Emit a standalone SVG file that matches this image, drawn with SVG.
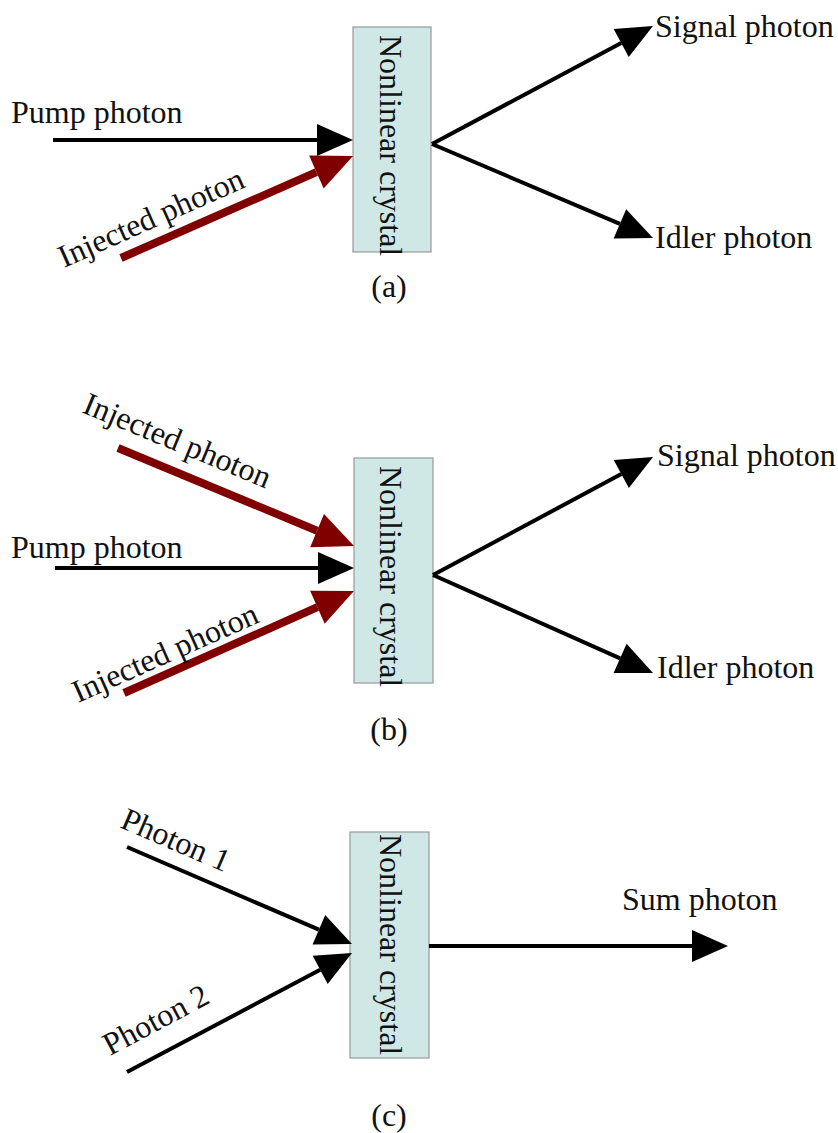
<svg xmlns="http://www.w3.org/2000/svg" width="838" height="1133" viewBox="0 0 838 1133">
<style>
text{font-family:"Liberation Serif","Times New Roman",serif;font-size:32px;fill:#111}
.crystal{fill:#cfe7e5;stroke:#999;stroke-width:1.2}
.blk{stroke:#000;stroke-width:4;fill:none;marker-end:url(#ah)}
.red{stroke:#800000;stroke-width:8;fill:none;marker-end:url(#ahr)}
.mid{text-anchor:middle}
</style>
<defs>
<marker id="ah" markerUnits="userSpaceOnUse" markerWidth="40" markerHeight="36" viewBox="0 -18 40 36" refX="0" refY="0" orient="auto" overflow="visible"><path d="M0,-16 L36,0 L0,16 z" fill="#000"/></marker>
<marker id="ahr" markerUnits="userSpaceOnUse" markerWidth="44" markerHeight="40" viewBox="0 -20 44 40" refX="0" refY="0" orient="auto" overflow="visible"><path d="M0,-18 L40,0 L0,18 z" fill="#800000"/></marker>
</defs>

<g id="crystal-a"><rect class="crystal" x="353" y="27" width="78" height="225"/><text transform="translate(380,35) rotate(90)">Nonlinear crystal</text></g>
<g id="crystal-b"><rect class="crystal" x="354" y="458" width="79" height="225"/><text transform="translate(380,466) rotate(90)">Nonlinear crystal</text></g>
<g id="crystal-c"><rect class="crystal" x="350" y="832" width="79" height="226"/><text transform="translate(380,834) rotate(90)">Nonlinear crystal</text></g>

<g id="connectors">
<path class="blk" d="M53,140 L317,140"/>
<path class="red" d="M121,258 L316.4,172.1"/>
<path class="blk" d="M432,144 L621.2,43"/>
<path class="blk" d="M432,144 L619.9,223.9"/>

<path class="red" d="M118,448 L317.1,530.7"/>
<path class="blk" d="M55,568 L318,568"/>
<path class="red" d="M124,693 L317.4,607.2"/>
<path class="blk" d="M433,575 L621.3,474"/>
<path class="blk" d="M433,575 L620.1,658.3"/>

<path class="blk" d="M127,847 L318.9,929.7"/>
<path class="blk" d="M127,1072 L320.2,969.8"/>
<path class="blk" d="M429,946 L692,946"/>
</g>

<g id="labels-a">
<text x="11" y="123">Pump photon</text>
<text transform="translate(64,268) rotate(-24)">Injected photon</text>
<text x="655" y="37">Signal photon</text>
<text x="655" y="248">Idler photon</text>
<text class="mid" x="389" y="297">(a)</text>
</g>
<g id="labels-b">
<text transform="translate(81,412) rotate(22.5)">Injected photon</text>
<text x="11" y="558">Pump photon</text>
<text transform="translate(78,703) rotate(-24)">Injected photon</text>
<text x="657" y="466">Signal photon</text>
<text x="657" y="678">Idler photon</text>
<text class="mid" x="389" y="740">(b)</text>
</g>
<g id="labels-c">
<text transform="translate(119,827) rotate(23.3)">Photon 1</text>
<text transform="translate(110,1056) rotate(-27.9)">Photon 2</text>
<text x="622" y="910">Sum photon</text>
<text class="mid" x="389" y="1126">(c)</text>
</g>
</svg>
